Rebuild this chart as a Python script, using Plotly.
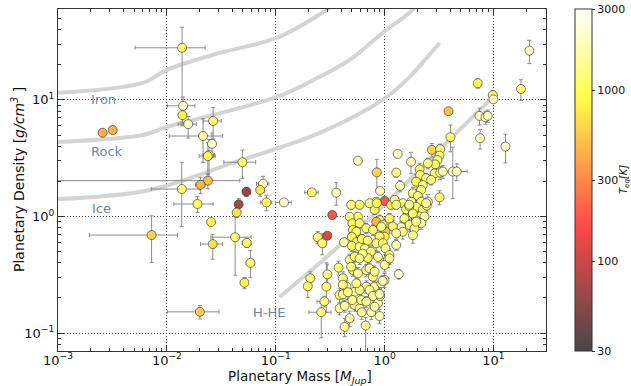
import numpy as np
import plotly.graph_objects as go

# ---------------- data ----------------
mass = [
    0.00257, 0.00318, 0.0138, 0.0141, 0.0139, 0.0157, 0.0266, 0.0215, 0.026, 0.0244,
    0.0238, 0.0494, 0.0238, 0.0204, 0.0137, 0.0538, 0.0766, 0.072, 0.0191, 0.0457,
    0.0822, 0.119, 0.0438, 0.0255, 0.00724, 0.0424, 0.0264, 0.0542, 0.0586, 0.0516,
    0.0201,
    0.569, 0.849, 0.215, 0.36, 0.331, 0.298, 0.243, 0.268, 0.424, 0.378,
    0.298, 0.208, 0.197, 0.292, 0.28, 0.262,
    3.87, 4.03, 21.4, 7.18, 17.9, 9.87, 10.0, 7.45, 8.45, 8.87,
    7.54, 12.9, 4.23, 4.6,
    1.32, 1.75, 2.72, 3.24, 3.2, 3.06, 2.92, 2.5, 2.1, 2.12,
    2.88, 3.24, 3.43, 1.28, 1.39, 1.95, 2.41, 2.68, 2.24, 2.17,
    1.82, 2.02, 1.76, 2.17, 2.5, 1.95, 2.24, 2.44, 3.2, 1.47,
    1.58, 1.69, 1.82, 2.1, 2.33, 1.52, 1.95, 2.17, 1.69, 1.88,
    1.42, 1.35,
    1.0, 0.91, 0.84, 1.15, 1.24, 0.81, 0.9, 1.11, 0.839, 1.02,
    0.96, 1.19, 1.47, 1.82, 1.0, 0.494, 0.59, 0.728, 0.849, 1.28,
    1.69, 1.82, 1.95, 2.41, 0.569, 0.478, 0.506, 0.59, 0.512, 0.55,
    0.679, 0.782, 0.933, 1.28, 0.9, 0.839, 0.964, 1.02, 1.11, 1.07,
    0.5, 0.55, 0.5, 0.59, 0.62, 0.7, 0.66, 0.75, 0.7, 0.63,
    0.478, 0.531, 0.59, 0.512, 0.569, 0.679, 0.728, 0.782, 0.809, 0.679,
    0.933, 1.0, 0.494, 0.414, 0.446, 0.386, 0.531, 0.59, 0.728, 0.386,
    0.531, 0.59, 0.506, 0.611, 0.414, 0.43, 0.478, 0.617, 0.67, 0.755,
    0.9, 0.869, 0.91, 0.782, 0.43, 0.414, 0.46, 0.55, 0.68, 0.81,
    0.96, 0.9, 1.0, 1.11, 1.28, 0.81, 0.869,
]
mass_err = [
    0.0002, 0.0002, 0.0087, 0.004, 0.001, 0.003, 0.005, 0.011, 0.002, 0.003,
    0.004, 0.016, 0.023, 0.002, 0.0065, 0.004, 0.01, 0.003, 0.0075, 0.002,
    0.01, 0.02, 0.003, 0.002, 0.0053, 0.017, 0.006, 0.005, 0.005, 0.004,
    0.01,
    0.02, 0.03, 0.03, 0.01, 0.01, 0.01, 0.02, 0.02, 0.01, 0.02,
    0.02, 0.01, 0.01, 0.02, 0.04, 0.06,
    0.15, 0.1, 0.4, 0.2, 0.4, 0.2, 0.3, 0.3, 0.3, 0.3,
    0.2, 0.2, 1.5, 0.4,
    0.1, 0.05, 0.1, 0.1, 0.1, 0.1, 0.1, 0.1, 0.1, 0.1,
    0.1, 0.1, 0.1, 0.05, 0.05, 0.1, 0.1, 0.1, 0.1, 0.1,
    0.1, 0.1, 0.1, 0.1, 0.1, 0.1, 0.1, 0.1, 0.2, 0.05,
    0.05, 0.05, 0.1, 0.1, 0.1, 0.05, 0.1, 0.1, 0.05, 0.1,
    0.05, 0.05,
    0.03, 0.03, 0.03, 0.03, 0.03, 0.03, 0.03, 0.03, 0.03, 0.03,
    0.03, 0.03, 0.05, 0.05, 0.03, 0.02, 0.02, 0.03, 0.03, 0.04,
    0.05, 0.05, 0.05, 0.1, 0.02, 0.02, 0.02, 0.02, 0.02, 0.02,
    0.02, 0.03, 0.03, 0.04, 0.03, 0.03, 0.03, 0.03, 0.03, 0.03,
    0.02, 0.02, 0.02, 0.02, 0.02, 0.03, 0.03, 0.03, 0.03, 0.02,
    0.02, 0.02, 0.02, 0.02, 0.02, 0.03, 0.03, 0.03, 0.03, 0.03,
    0.03, 0.04, 0.02, 0.02, 0.02, 0.02, 0.02, 0.03, 0.03, 0.02,
    0.03, 0.03, 0.02, 0.03, 0.02, 0.02, 0.03, 0.03, 0.03, 0.03,
    0.04, 0.03, 0.04, 0.03, 0.02, 0.02, 0.02, 0.02, 0.03, 0.03,
    0.04, 0.03, 0.03, 0.04, 0.04, 0.03, 0.03,
]
density = [
    5.23, 5.52, 28.0, 8.9, 7.4, 6.2, 6.6, 4.9, 4.2, 3.37,
    3.3, 2.92, 2.03, 1.87, 1.72, 1.63, 1.91, 1.69, 1.28, 1.27,
    1.32, 1.32, 1.08, 0.897, 0.693, 0.664, 0.58, 0.593, 0.40, 0.27,
    0.152,
    3.01, 2.39, 1.61, 1.60, 1.03, 0.684, 0.663, 0.589, 0.601, 0.364,
    0.319, 0.295, 0.252, 0.25, 0.187, 0.151,
    8.0, 4.79, 26.5, 13.9, 12.4, 11.0, 10.1, 7.29, 7.1, 7.3,
    4.69, 3.98, 2.43, 2.43,
    3.44, 2.95, 3.73, 3.78, 3.33, 3.05, 2.8, 2.86, 2.54, 2.27,
    2.34, 2.38, 2.43, 2.38, 1.83, 1.99, 2.13, 2.06, 1.86, 1.69,
    1.58, 1.5, 1.34, 1.34, 1.34, 1.21, 1.14, 1.24, 1.46, 1.3,
    1.15, 1.22, 1.05, 1.0, 1.0, 0.96, 0.93, 0.875, 0.846, 0.79,
    0.81, 0.32,
    1.36, 1.66, 1.34, 1.26, 1.39, 1.14, 0.93, 0.96, 0.902, 0.741,
    0.846, 0.82, 0.74, 0.69, 0.671, 1.26, 1.26, 1.30, 1.30, 1.26,
    1.26, 1.06, 0.902, 1.30, 0.995, 0.995, 0.875, 0.875, 0.766, 0.741,
    0.792, 0.766, 0.817, 0.718, 0.671, 0.589, 0.589, 0.533, 0.467, 0.424,
    0.67, 0.6, 0.56, 0.55, 0.64, 0.62, 0.53, 0.5, 0.44, 0.48,
    0.424, 0.452, 0.437, 0.347, 0.325, 0.347, 0.359, 0.304, 0.25, 0.25,
    0.267, 0.285, 0.371, 0.295, 0.25, 0.212, 0.226, 0.234, 0.234, 0.163,
    0.174, 0.163, 0.192, 0.192, 0.215, 0.113, 0.134, 0.151, 0.116, 0.151,
    0.14, 0.18, 0.208, 0.208, 0.171, 0.26, 0.224, 0.267, 0.186, 0.168,
    0.28, 0.216, 0.384, 0.437, 0.569, 0.336, 0.45,
]
density_err_up = [
    0.25, 0.25, 14, 1.7, 1.0, 1.0, 2.0, 2.0, 1.0, 1.2,
    1.0, 0.8, 0.3, 0.3, 1.2, 0.15, 0.3, 0.2, 0.2, 0.15,
    0.2, 0.05, 0.1, 0.05, 0.32, 0.34, 0.12, 0.05, 0.11, 0.03,
    0.02,
    0.1, 0.7, 0.1, 0.35, 0.05, 0.04, 0.08, 0.12, 0.05, 0.05,
    0.07, 0.04, 0.05, 0.15, 0.02, 0.03,
    0.5, 1.3, 6, 1.3, 2.5, 1.0, 0.7, 1.2, 0.9, 0.9,
    0.9, 1.1, 1.5, 0.4,
    0.1, 0.6, 0.5, 0.4, 0.3, 0.3, 0.2, 0.3, 0.3, 0.2,
    0.2, 0.3, 0.3, 0.2, 0.2, 0.3, 0.2, 0.2, 0.2, 0.2,
    0.2, 0.2, 0.15, 0.15, 0.2, 0.15, 0.15, 0.15, 0.2, 0.1,
    0.1, 0.1, 0.1, 0.1, 0.1, 0.1, 0.1, 0.1, 0.1, 0.1,
    0.1, 0.03,
    0.1, 0.1, 0.1, 0.1, 0.1, 0.1, 0.1, 0.1, 0.08, 0.08,
    0.1, 0.1, 0.1, 0.1, 0.1, 0.1, 0.1, 0.1, 0.1, 0.1,
    0.1, 0.1, 0.1, 0.1, 0.08, 0.08, 0.08, 0.08, 0.08, 0.08,
    0.08, 0.08, 0.08, 0.08, 0.08, 0.08, 0.08, 0.06, 0.06, 0.06,
    0.06, 0.06, 0.06, 0.06, 0.06, 0.06, 0.06, 0.06, 0.06, 0.06,
    0.05, 0.05, 0.05, 0.04, 0.04, 0.04, 0.04, 0.04, 0.03, 0.03,
    0.04, 0.04, 0.04, 0.04, 0.03, 0.03, 0.03, 0.03, 0.03, 0.02,
    0.02, 0.02, 0.03, 0.03, 0.03, 0.02, 0.02, 0.02, 0.02, 0.02,
    0.02, 0.02, 0.03, 0.03, 0.02, 0.03, 0.03, 0.03, 0.02, 0.02,
    0.03, 0.03, 0.05, 0.05, 0.06, 0.04, 0.05,
]
density_err_down = [
    0.25, 0.25, 22, 1.5, 1.0, 1.5, 2.0, 2.0, 1.0, 1.2,
    1.0, 0.8, 0.3, 0.3, 0.9, 0.15, 0.3, 0.2, 0.2, 0.15,
    0.2, 0.05, 0.1, 0.05, 0.29, 0.35, 0.15, 0.05, 0.1, 0.03,
    0.02,
    0.1, 0.7, 0.1, 0.35, 0.05, 0.04, 0.08, 0.12, 0.05, 0.05,
    0.07, 0.04, 0.05, 0.1, 0.02, 0.06,
    0.5, 1.2, 6, 1.3, 2.5, 1.0, 0.7, 1.2, 0.9, 0.9,
    0.9, 1.1, 1.0, 0.4,
    0.1, 0.6, 0.5, 0.4, 0.3, 0.3, 0.2, 0.3, 0.3, 0.2,
    0.2, 0.3, 0.3, 0.2, 0.2, 0.3, 0.2, 0.2, 0.2, 0.2,
    0.2, 0.2, 0.15, 0.15, 0.2, 0.15, 0.15, 0.15, 0.2, 0.1,
    0.1, 0.1, 0.1, 0.1, 0.1, 0.1, 0.1, 0.1, 0.1, 0.1,
    0.1, 0.03,
    0.1, 0.1, 0.1, 0.1, 0.1, 0.1, 0.1, 0.1, 0.08, 0.08,
    0.1, 0.1, 0.1, 0.1, 0.1, 0.1, 0.1, 0.1, 0.1, 0.1,
    0.1, 0.1, 0.1, 0.1, 0.08, 0.08, 0.08, 0.08, 0.08, 0.08,
    0.08, 0.08, 0.08, 0.08, 0.08, 0.08, 0.08, 0.06, 0.06, 0.06,
    0.06, 0.06, 0.06, 0.06, 0.06, 0.06, 0.06, 0.06, 0.06, 0.06,
    0.05, 0.05, 0.05, 0.04, 0.04, 0.04, 0.04, 0.04, 0.03, 0.03,
    0.04, 0.04, 0.04, 0.04, 0.03, 0.03, 0.03, 0.03, 0.03, 0.02,
    0.02, 0.02, 0.03, 0.03, 0.03, 0.02, 0.02, 0.02, 0.1, 0.02,
    0.02, 0.02, 0.03, 0.03, 0.02, 0.03, 0.03, 0.03, 0.02, 0.02,
    0.03, 0.03, 0.05, 0.05, 0.06, 0.04, 0.05,
]
teq = [
    420, 450, 1100, 2000, 900, 2000, 1300, 1800, 2200, 1300,
    900, 1200, 500, 450, 1100, 60, 2000, 700, 1100, 70,
    1100, 2300, 700, 900, 600, 1100, 700, 1100, 1100, 900,
    550,
    1900, 600, 1100, 1900, 180, 120, 1100, 1200, 1700, 1200,
    1300, 1100, 1100, 1100, 1300, 1300,
    500, 1100, 2000, 1000, 1200, 900, 2000, 2000, 2000, 2000,
    2000, 2200, 2000, 2000,
    2000, 1900, 600, 1300, 1200, 1300, 1100, 1300, 900, 1300,
    1300, 1500, 1800, 1300, 2000, 900, 1300, 1300, 1200, 1300,
    1200, 1400, 1300, 1200, 1500, 1200, 1300, 1400, 1100, 1300,
    1200, 1000, 1300, 1500, 1700, 1300, 1400, 1800, 1400, 1600,
    2000, 2400,
    180, 2000, 1100, 1000, 1300, 1100, 1200, 1100, 450, 500,
    1300, 1200, 1400, 1500, 900, 1200, 1100, 1300, 1000, 1300,
    1500, 1200, 1300, 1700, 1100, 1300, 1000, 1200, 900, 1100,
    1300, 1200, 1400, 1600, 1100, 1300, 1200, 1500, 1300, 1400,
    1000, 1200, 1100, 1300, 1000, 1200, 1400, 1300, 1100, 1500,
    1300, 1200, 1400, 1300, 1500, 1300, 1600, 1400, 1500, 1400,
    1700, 1600, 1300, 1400, 1500, 1300, 1500, 1400, 1600, 1500,
    1600, 1700, 1400, 1500, 1300, 1500, 1600, 1500, 1400, 1700,
    1800, 1600, 1700, 1500, 1600, 1300, 1400, 1300, 1500, 1700,
    1800, 1700, 1500, 1600, 1700, 1400, 1500,
]

# composition curves
iron_mass = [0.001, 0.006, 0.01, 0.0306, 0.102, 0.25, 0.386]
iron_density = [11.5, 14.0, 18.1, 25.3, 34.0, 53.7, 72.0]
rock_mass = [0.001, 0.006, 0.01, 0.102, 0.25, 0.478, 0.96, 1.81, 2.1]
rock_density = [4.36, 5.0, 5.86, 10.6, 15.7, 22.0, 37.6, 59.3, 72.0]
ice_mass = [0.001, 0.00698, 0.0404, 0.254, 0.96, 1.69, 2.43, 3.2]
ice_density = [1.41, 1.69, 2.88, 5.21, 10.0, 15.7, 22.9, 30.8]
hhe_mass = [0.109, 0.166, 0.254, 1.11, 3.94, 9.77]
hhe_density = [0.204, 0.285, 0.399, 1.39, 4.54, 10.4]

curve_labels = ["Iron", "Rock", "Ice", "H-HE"]
label_mass = [0.00264, 0.00281, 0.00249, 0.0863]
label_density = [10.0, 3.58, 1.18, 0.151]

cbar_ticks = [30, 100, 300, 1000, 3000]

# ---------------- style helpers ----------------
def hot(v):
    r = min(1.0, v / 0.365)
    g = min(1.0, max(0.0, (v - 0.365) / 0.375))
    b = min(1.0, max(0.0, (v - 0.74) / 0.26))
    return r, g, b

alpha = 0.72
colorscale = []
for i in range(21):
    v = i / 20
    r, g, b = hot(v)
    c = [int(round(255 * (ch * alpha + (1 - alpha)))) for ch in (r, g, b)]
    colorscale.append([v, f"rgb({c[0]},{c[1]},{c[2]})"])

fig = go.Figure()

curve_style = dict(color="rgb(212,212,212)", width=4)
for mx, dy in [(iron_mass, iron_density), (rock_mass, rock_density),
               (ice_mass, ice_density), (hhe_mass, hhe_density)]:
    fig.add_trace(go.Scatter(x=mx, y=dy, mode="lines", line=dict(curve_style, shape="spline"),
                             hoverinfo="skip", showlegend=False))

logT = np.log10(np.array(teq, dtype=float))
fig.add_trace(go.Scatter(
    x=mass, y=density, mode="markers", showlegend=False,
    error_x=dict(type="data", array=mass_err, color="rgb(140,140,140)", thickness=1, width=2),
    error_y=dict(type="data", array=density_err_up, arrayminus=density_err_down,
                 symmetric=False, color="rgb(140,140,140)", thickness=1, width=2),
    marker=dict(
        size=9, color=logT, colorscale=colorscale,
        cmin=np.log10(30), cmax=np.log10(3000),
        line=dict(color="rgba(50,50,50,0.8)", width=0.8),
        colorbar=dict(
            x=(575 - 58) / 488, xanchor="left", xpad=0, ypad=0,
            y=0.5, yanchor="middle", len=1.0, lenmode="fraction",
            thickness=17, outlinecolor="#333", outlinewidth=1,
            tickmode="array", tickvals=np.log10(cbar_ticks),
            ticktext=[str(t) for t in cbar_ticks],
            ticks="outside", ticklen=3, tickcolor="#333",
            tickfont=dict(size=11, color="#111"),
        ),
    ),
))

for t, mx, dy in zip(curve_labels, label_mass, label_density):
    fig.add_annotation(x=np.log10(mx), y=np.log10(dy), text=t, showarrow=False,
                       font=dict(size=13, color="#6e869c"), xanchor="center", yanchor="middle")

minor_x = [m * 10.0 ** e for e in range(-3, 2) for m in range(2, 10)]
minor_y = [m * 10.0 ** e for e in range(-2, 2) for m in range(2, 10)]

axis_common = dict(
    type="log", tickmode="array", ticks="inside", ticklen=6, tickwidth=1, tickcolor="#333",
    showline=True, linecolor="#333", linewidth=1.3, mirror="allticks",
    showgrid=True, gridcolor="#444", griddash="1px,2px", gridwidth=1, zeroline=False,
    tickfont=dict(size=13, color="#111"), automargin=False,
)
fig.update_xaxes(
    axis_common, range=[-3, 1.483], ticklabelstandoff=-3,
    tickvals=[1e-3, 1e-2, 1e-1, 1, 10],
    ticktext=["10<sup>−3</sup>", "10<sup>−2</sup>", "10<sup>−1</sup>", "10<sup>0</sup>", "10<sup>1</sup>"],
    minor=dict(tickmode="array", tickvals=minor_x, ticks="inside", ticklen=3,
               tickcolor="#333", showgrid=False),
)
fig.update_yaxes(
    axis_common, range=[-1.154, 1.78],
    tickvals=[1e-1, 1, 10],
    ticktext=["10<sup>−1</sup>", "10<sup>0</sup>", "10<sup>1</sup>"],
    minor=dict(tickmode="array", tickvals=minor_y, ticks="inside", ticklen=3,
               tickcolor="#333", showgrid=False),
)

fig.add_annotation(xref="paper", yref="paper", x=(300 - 58) / 488, y=(351 - 377) / 342,
                   text="Planetary Mass [<i>M<sub>Jup</sub></i>]", showarrow=False,
                   font=dict(size=13.5, color="#111"), xanchor="center", yanchor="middle")
fig.add_annotation(xref="paper", yref="paper", x=(18 - 58) / 488, y=(351 - 180) / 342,
                   text="Planetary Density [<i>g/cm<sup>3</sup></i> ]", showarrow=False, textangle=-90,
                   font=dict(size=14, color="#111"), xanchor="center", yanchor="middle")
fig.add_annotation(xref="paper", yref="paper", x=(624 - 58) / 488, y=(351 - 180) / 342,
                   text="<i>T<sub>eq</sub>[K]</i>", showarrow=False, textangle=-90,
                   font=dict(size=10, color="#222"), xanchor="center", yanchor="middle")

fig.update_layout(
    width=631, height=386,
    margin=dict(l=58, r=85, t=9, b=35, autoexpand=False),
    paper_bgcolor="white", plot_bgcolor="white",
    font=dict(family="DejaVu Sans", color="#111"),
    showlegend=False,
)

fig.write_html("out.html")
